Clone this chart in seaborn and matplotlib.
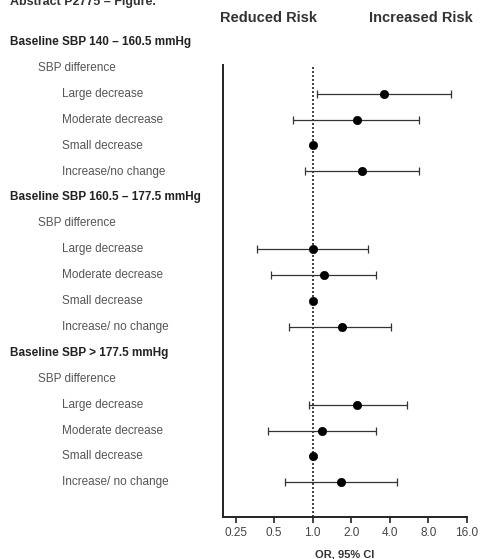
import matplotlib
matplotlib.use('Agg')
import matplotlib.pyplot as plt
import matplotlib.ticker as mticker
import numpy as np
import pandas as pd
import seaborn as sns

# row labels (indent level 0 = baseline group, 1 = sub header, 2 = category)
labels = [
    "Baseline SBP 140 – 160.5 mmHg", "SBP difference",
    "Large decrease", "Moderate decrease", "Small decrease", "Increase/no change",
    "Baseline SBP 160.5 – 177.5 mmHg", "SBP difference",
    "Large decrease", "Moderate decrease", "Small decrease", "Increase/ no change",
    "Baseline SBP > 177.5 mmHg", "SBP difference",
    "Large decrease", "Moderate decrease", "Small decrease", "Increase/ no change",
]
levels = [0, 1, 2, 2, 2, 2, 0, 1, 2, 2, 2, 2, 0, 1, 2, 2, 2, 2]

# odds ratios and 95% CI (nan for reference category)
est_rows = [2, 3, 4, 5, 8, 9, 10, 11, 14, 15, 16, 17]
odds_ratio = [3.6, 2.23, 1.0, 2.43, 1.0, 1.22, 1.0, 1.68, 2.23, 1.19, 1.0, 1.65]
ci_low = [1.07, 0.70, np.nan, 0.87, 0.37, 0.47, np.nan, 0.65, 0.93, 0.45, np.nan, 0.61]
ci_high = [11.9, 6.7, np.nan, 6.7, 2.7, 3.13, np.nan, 4.1, 5.4, 3.13, np.nan, 4.55]

xticks = [0.25, 0.5, 1.0, 2.0, 4.0, 8.0, 16.0]
xtick_labels = ["0.25", "0.5", "1.0", "2.0", "4.0", "8.0", "16.0"]

sns.set_style('ticks')
plt.rcParams['font.family'] = ['Liberation Sans', 'DejaVu Sans']

df = pd.DataFrame({'row': est_rows, 'OR': odds_ratio, 'lo': ci_low, 'hi': ci_high})

fig = plt.figure(figsize=(4.81, 5.59), dpi=100)
ax = fig.add_axes([0.464, 0.075, 0.507, 0.809])

ci = df.dropna()
ax.errorbar(ci['OR'], ci['row'],
            xerr=[ci['OR'] - ci['lo'], ci['hi'] - ci['OR']],
            fmt='none', ecolor='#333333', elinewidth=0.9, capsize=3, capthick=0.9)
sns.scatterplot(data=df, x='OR', y='row', color='black', s=36, edgecolor='black',
                zorder=3, ax=ax, legend=False)
ax.axvline(1.0, color='#222222', linestyle=(0, (1.2, 1.2)), linewidth=1.2, zorder=1)

ax.set_xscale('log', base=2)
ax.set_xlim(0.2, 16.0)
ax.set_ylim(18.34, 0.89)
ax.xaxis.set_major_locator(mticker.FixedLocator(xticks))
ax.xaxis.set_minor_locator(mticker.NullLocator())
ax.set_xticklabels(xtick_labels, fontsize=8.5, color='#444444')
ax.set_yticks([])
ax.set_xlabel("OR, 95% CI", fontsize=8, fontweight='bold', color='#333333', labelpad=8)
ax.set_ylabel("")
sns.despine(ax=ax)
for s in ['left', 'bottom']:
    ax.spines[s].set_linewidth(1.4)
    ax.spines[s].set_color('#222222')
ax.tick_params(axis='x', length=4, width=1.2, color='#222222', pad=3)

indent = {0: 10, 1: 38, 2: 62}
for r, (lab, lv) in enumerate(zip(labels, levels)):
    xfig = indent[lv] / 481
    yfig = 1 - (42 + 25.9 * r) / 559
    fig.text(xfig, yfig, lab, fontsize=8.5,
             fontweight='bold' if lv == 0 else 'normal',
             color='#222222' if lv == 0 else '#555555', va='center', ha='left')

fig.text(220 / 481, 1 - 18 / 559, "Reduced Risk", fontsize=10.5, fontweight='bold',
         color='#333333', va='center', ha='left')
fig.text(473 / 481, 1 - 18 / 559, "Increased Risk", fontsize=10.5, fontweight='bold',
         color='#333333', va='center', ha='right')
fig.text(10 / 481, 1 - 2 / 559, "Abstract P2775 – Figure.", fontsize=9, fontweight='bold',
         color='#333333', va='center', ha='left')

fig.savefig('out.png', dpi=100)
